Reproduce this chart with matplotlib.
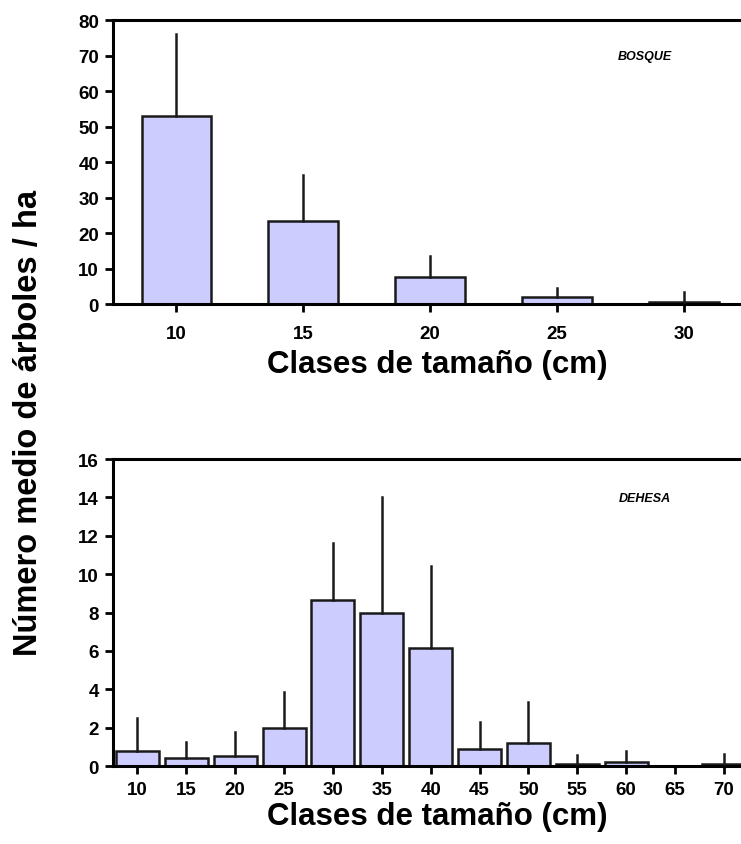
import matplotlib
matplotlib.use("Agg")
import matplotlib.pyplot as plt
import numpy as np

plt.rcParams['font.family'] = ['Liberation Sans', 'DejaVu Sans']

# datos bosque
clases_bosque = ['10', '15', '20', '25', '30']
media_bosque = [53.0, 23.5, 7.5, 2.0, 0.7]
error_bosque = [23.0, 13.0, 6.0, 2.5, 2.8]

# datos dehesa
clases_dehesa = ['10', '15', '20', '25', '30', '35', '40', '45', '50', '55', '60', '65', '70']
media_dehesa = [0.8, 0.4, 0.5, 2.0, 8.65, 7.95, 6.15, 0.9, 1.2, 0.1, 0.2, 0.0, 0.1]
error_dehesa = [1.7, 0.85, 1.25, 1.85, 2.95, 6.05, 4.3, 1.4, 2.15, 0.45, 0.6, 0.0, 0.5]

color_barra = '#CCCCFF'
fuente_ticks = ['Liberation Sans Narrow', 'Liberation Sans', 'DejaVu Sans']

fig = plt.figure(figsize=(7.41, 8.45), dpi=100)
ax1 = fig.add_axes([0.1525, 0.639, 0.8475, 0.336])
ax2 = fig.add_axes([0.1525, 0.0923, 0.8475, 0.3633])


def dibujar(ax, clases, medias, errores, ancho, ymax, paso, etiqueta, xmax, xpad):
    x = np.arange(len(clases))
    ax.bar(x, medias, width=ancho, color=color_barra, edgecolor='#1a1a1a',
           linewidth=1.8, zorder=2)
    for xi, m, e in zip(x, medias, errores):
        if e > 0:
            ax.plot([xi, xi], [m, m + e], color='#1a1a1a', lw=1.8, zorder=3)
    ax.set_xlim(-0.5, xmax)
    ax.set_ylim(0, ymax)
    ax.set_xticks(x)
    ax.set_xticklabels(clases)
    ax.set_yticks(np.arange(0, ymax + 0.01, paso))
    ax.spines['right'].set_visible(False)
    for s in ['left', 'top', 'bottom']:
        ax.spines[s].set_linewidth(2.2)
    ax.tick_params(direction='out', length=6, width=2)
    ax.tick_params(axis='x', pad=xpad)
    ax.tick_params(axis='y', pad=4)
    for t in ax.get_xticklabels() + ax.get_yticklabels():
        t.set_fontweight('bold')
        t.set_family(fuente_ticks)
        t.set_fontsize(13.5)
    ax.text(0.847, 0.873, etiqueta, transform=ax.transAxes, ha='center', va='center',
            fontsize=9, fontstyle='italic', fontweight='bold')


dibujar(ax1, clases_bosque, media_bosque, error_bosque, 0.55, 80, 10, 'BOSQUE', 4.45, 9)
dibujar(ax2, clases_dehesa, media_dehesa, error_dehesa, 0.88, 16, 2, 'DEHESA', 12.35, 5)

# etiquetas de eje x (una por panel)
fig.text(0.59, 0.568, 'Clases de tamaño (cm)', ha='center', va='center',
         fontsize=22.5, fontweight='bold')
fig.text(0.59, 0.033, 'Clases de tamaño (cm)', ha='center', va='center',
         fontsize=22.5, fontweight='bold')

fig.text(0.039, 0.50, 'Número medio de árboles / ha', rotation=90, ha='center',
         va='center', fontsize=23.5, fontweight='bold')

fig.savefig('out.png', dpi=100)
